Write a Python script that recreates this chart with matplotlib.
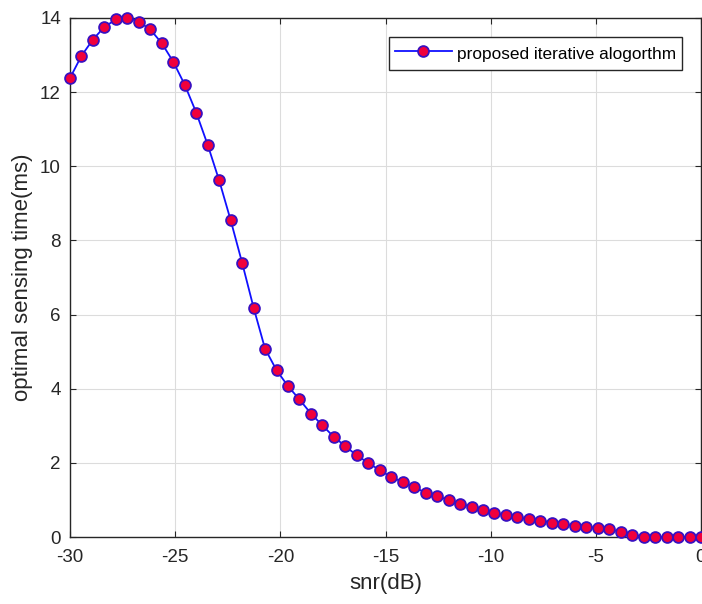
import numpy as np
import matplotlib
matplotlib.use("Agg")
import matplotlib.pyplot as plt

snr_db = np.linspace(-30, 0, 56)
sensing_time = [12.38, 12.98, 13.42, 13.76, 13.96, 14.01, 13.90, 13.69, 13.32, 12.82,
                12.20, 11.45, 10.58, 9.62, 8.55, 7.40, 6.19, 5.08, 4.50, 4.07,
                3.71, 3.33, 3.01, 2.70, 2.45, 2.20, 2.00, 1.80, 1.62, 1.48,
                1.35, 1.19, 1.10, 1.00, 0.89, 0.82, 0.73, 0.64, 0.59, 0.53,
                0.48, 0.44, 0.39, 0.34, 0.30, 0.28, 0.24, 0.22, 0.13, 0.06,
                0.01, 0.0, 0.0, 0.0, 0.0, 0.0]
xticks = [-30, -25, -20, -15, -10, -5, 0]
yticks = [0, 2, 4, 6, 8, 10, 12, 14]

plt.rcParams['font.family'] = ['Liberation Sans', 'DejaVu Sans']

W, H = 702, 604
fig = plt.figure(figsize=(W/100, H/100), dpi=100)
ax = fig.add_axes([70/W, (H-537)/H, 631/W, (537-18)/H])

ax.plot(snr_db, sensing_time, '-o', color='#1010ff', lw=1.3,
        markerfacecolor='#f0003c', markeredgecolor='#3a10c0', markeredgewidth=1.3,
        markersize=7.8, clip_on=False, zorder=3,
        label='proposed iterative alogorthm')

ax.set_xlim(-30, 0)
ax.set_ylim(0, 14)
ax.set_xticks(xticks)
ax.set_yticks(yticks)
ax.set_xticklabels([str(t) for t in xticks])
ax.set_yticklabels([str(t) for t in yticks])
ax.tick_params(direction='in', length=4, labelsize=13.5, colors='#262626',
               top=True, right=True, labeltop=False, labelright=False)
ax.tick_params(axis='x', pad=9)
ax.tick_params(axis='y', pad=6.5)
ax.grid(True, color='#dcdcdc', lw=0.8)
ax.set_axisbelow(True)
for s in ax.spines.values():
    s.set_color('#262626')
    s.set_linewidth(1.0)

ax.set_xlabel('snr(dB)', fontsize=16, color='#262626', labelpad=4.5)
ax.set_ylabel('optimal sensing time(ms)', fontsize=16, color='#262626', labelpad=5)

leg = ax.legend(loc='upper right', bbox_to_anchor=(0.970, 0.963), fontsize=12.4,
                fancybox=False, framealpha=1, edgecolor='#262626',
                handlelength=3.3, handletextpad=0.3, borderpad=0.35,
                handleheight=1.5, borderaxespad=0.0)
leg.get_frame().set_linewidth(1.0)

fig.savefig('out.png', dpi=100)
